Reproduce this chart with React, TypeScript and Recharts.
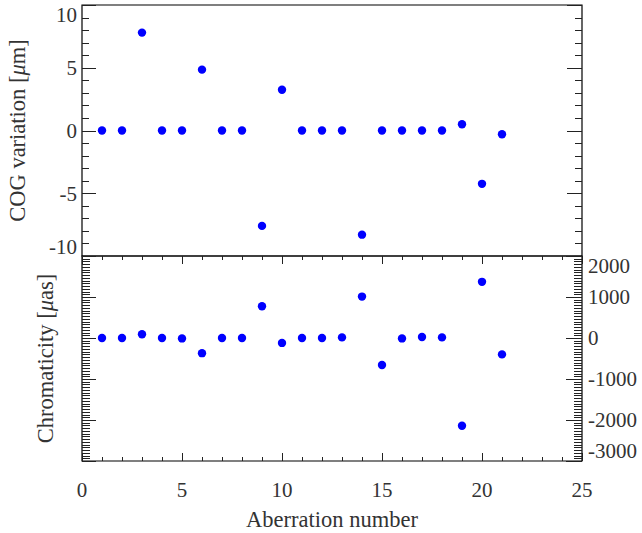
import React from "react";
import { ScatterChart, Scatter, XAxis, YAxis, ReferenceArea } from "recharts";

// aberration index (x) shared by both panels
const aberration = [1, 2, 3, 4, 5, 6, 7, 8, 9, 10, 11, 12, 13, 14, 15, 16, 17, 18, 19, 20, 21];

// top panel: COG variation [um]
const cogVariation = [
  0, 0, 7.8, 0, 0, 4.85, 0, 0, -7.6, 3.25, 0, 0, 0, -8.3, 0, 0, 0, 0, 0.5, -4.25, -0.3,
];

// bottom panel: chromaticity [uas]
const chromaticity = [
  0, 0, 90, 0, -10, -370, 0, 0, 775, -120, 0, 0, 15, 1010, -660, -10, 25, 15, -2140, 1370, -400,
];

const xTicks = [0, 1, 2, 3, 4, 5, 6, 7, 8, 9, 10, 11, 12, 13, 14, 15, 16, 17, 18, 19, 20, 21, 22, 23, 24, 25];
const xLabels = [0, 5, 10, 15, 20, 25];

const cogTicks = [-10, -9, -8, -7, -6, -5, -4, -3, -2, -1, 0, 1, 2, 3, 4, 5, 6, 7, 8, 9, 10];
const cogMajors = [-10, -5, 0, 5, 10];
const cogLabels = [-10, -5, 0, 5, 10];

const chromaMajors = [-3000, -2000, -1000, 0, 1000, 2000];
const chromaLabels = [-3000, -2000, -1000, 0, 1000, 2000];
// minor ticks, 15 per major step
const chromaTicks: number[] = [];
for (let k = -45; k <= 30; k++) chromaTicks.push(k % 15 === 0 ? (k / 15) * 1000 : (k * 1000) / 15);

const cogData = aberration.map((x, i) => ({ x, y: cogVariation[i] }));
const chromaData = aberration.map((x, i) => ({ x, y: chromaticity[i] }));

const FONT = "'Liberation Serif', 'Times New Roman', serif";
const TEXT = "#333";
const TICK = "#222";
const BLUE = "#0000ff";

const has = (arr: number[] | undefined, v: number) =>
  !!arr && arr.some((m) => Math.abs(m - v) < 1e-6);

// y-axis tick: draws the inward tick line itself, label only on labelled values
const YTick = (props: any) => {
  const { x = 0, y = 0, payload, side, majors, labels, majorLen, minorLen, shift } = props;
  const v = payload.value;
  const len = has(majors, v) ? majorLen : minorLen;
  const dir = side === "left" ? 1 : -1;
  const dy = shift && shift[String(v)] ? shift[String(v)] : 0;
  const yy = Math.round(y) + 0.5;
  return (
    <g>
      <path d={`M${x},${yy}H${x + dir * len}`} stroke={TICK} strokeWidth={1} fill="none" />
      {has(labels, v) && (
        <text
          x={side === "left" ? x - 5 : x + 6}
          y={y + dy}
          dy="0.35em"
          textAnchor={side === "left" ? "end" : "start"}
          fontFamily={FONT}
          fontSize={21}
          fill={TEXT}
        >
          {v}
        </text>
      )}
    </g>
  );
};

// x-axis tick: inward tick line, label only on the bottom edge
const XTick = (props: any) => {
  const { x = 0, y = 0, payload, edge } = props;
  const v = payload.value;
  const len = has(xLabels, v) ? 8 : 4;
  const dir = edge === "bottom" ? -1 : 1;
  const xx = Math.round(x) + 0.5;
  return (
    <g>
      <path d={`M${xx},${y}V${y + dir * len}`} stroke={TICK} strokeWidth={1} fill="none" />
      {edge === "bottom" && has(xLabels, v) && (
        <text x={x} y={y + 36} textAnchor="middle" fontFamily={FONT} fontSize={21} fill={TEXT}>
          {v}
        </text>
      )}
    </g>
  );
};

const dot = (p: any) => <circle cx={p.cx} cy={p.cy} r={4.2} fill={BLUE} />;
const noDot = () => <g />;

const App = () => {
  return (
    <div style={{ position: "absolute", left: 0, top: 0, width: 642, height: 533, background: "#fff" }}>
      {/* top panel */}
      <div style={{ position: "absolute", left: 0, top: 0 }}>
        <ScatterChart width={642} height={258} margin={{ top: 5, right: 59, bottom: 2, left: 81 }}>
          <XAxis type="number" dataKey="x" domain={[0, 25]} ticks={xTicks} hide />
          <YAxis
            yAxisId="l"
            type="number"
            dataKey="y"
            domain={[-10, 10]}
            ticks={cogTicks}
            interval={0}
            width={1}
            tickSize={0}
            tickMargin={0}
            axisLine={false}
            tickLine={false}
            tick={
              <YTick
                side="left"
                majors={cogMajors}
                labels={cogLabels}
                majorLen={14}
                minorLen={7}
                shift={{ "10": 10, "-10": -9 }}
              />
            }
            label={(p: any) => {
              const vb = p.viewBox;
              const cx = 25;
              const cy = vb.y + vb.height / 2;
              return (
                <text
                  x={cx}
                  y={cy}
                  transform={`rotate(-90, ${cx}, ${cy})`}
                  textAnchor="middle"
                  fontFamily={FONT}
                  fontSize={22.5}
                  fill={TEXT}
                >
                  COG variation [<tspan fontStyle="italic">μ</tspan>m]
                </text>
              );
            }}
          />
          <YAxis
            yAxisId="r"
            orientation="right"
            type="number"
            dataKey="y"
            domain={[-10, 10]}
            ticks={cogTicks}
            interval={0}
            width={1}
            tickSize={0}
            tickMargin={0}
            axisLine={false}
            tickLine={false}
            tick={<YTick side="right" majors={cogMajors} majorLen={15} minorLen={7} />}
          />
          <ReferenceArea
            yAxisId="l"
            x1={0}
            x2={25}
            y1={-10}
            y2={10}
            fill="none"
            stroke="#000"
            strokeWidth={1.2}
          />
          <Scatter yAxisId="l" data={cogData} shape={dot} isAnimationActive={false} />
          {/* invisible copy so the right axis gets drawn */}
          <Scatter yAxisId="r" data={cogData} shape={noDot} isAnimationActive={false} />
        </ScatterChart>
      </div>

      {/* bottom panel */}
      <div style={{ position: "absolute", left: 0, top: 254 }}>
        <ScatterChart width={642} height={279} margin={{ top: 1, right: 59, bottom: 71, left: 81 }}>
          <XAxis
            xAxisId="b"
            type="number"
            dataKey="x"
            domain={[0, 25]}
            ticks={xTicks}
            interval={0}
            height={1}
            tickSize={0}
            tickMargin={0}
            axisLine={false}
            tickLine={false}
            tick={<XTick edge="bottom" />}
            label={(p: any) => {
              const vb = p.viewBox;
              return (
                <text
                  x={vb.x + vb.width / 2}
                  y={vb.y + 66}
                  textAnchor="middle"
                  fontFamily={FONT}
                  fontSize={22.5}
                  fill={TEXT}
                >
                  Aberration number
                </text>
              );
            }}
          />
          <XAxis
            xAxisId="t"
            orientation="top"
            type="number"
            dataKey="x"
            domain={[0, 25]}
            ticks={xTicks}
            interval={0}
            height={1}
            tickSize={0}
            tickMargin={0}
            axisLine={false}
            tickLine={false}
            tick={<XTick edge="top" />}
          />
          <YAxis
            yAxisId="l"
            type="number"
            dataKey="y"
            domain={[-3000, 2000]}
            ticks={chromaTicks}
            interval={0}
            width={1}
            tickSize={0}
            tickMargin={0}
            axisLine={false}
            tickLine={false}
            tick={<YTick side="left" majors={chromaMajors} majorLen={14} minorLen={8} />}
            label={(p: any) => {
              const vb = p.viewBox;
              const cx = 53;
              const cy = vb.y + vb.height / 2;
              return (
                <text
                  x={cx}
                  y={cy}
                  transform={`rotate(-90, ${cx}, ${cy})`}
                  textAnchor="middle"
                  fontFamily={FONT}
                  fontSize={22.5}
                  fill={TEXT}
                >
                  Chromaticity [<tspan fontStyle="italic">μ</tspan>as]
                </text>
              );
            }}
          />
          <YAxis
            yAxisId="r"
            orientation="right"
            type="number"
            dataKey="y"
            domain={[-3000, 2000]}
            ticks={chromaTicks}
            interval={0}
            width={1}
            tickSize={0}
            tickMargin={0}
            axisLine={false}
            tickLine={false}
            tick={
              <YTick
                side="right"
                majors={chromaMajors}
                labels={chromaLabels}
                majorLen={16}
                minorLen={8}
                shift={{ "2000": 10, "-3000": -10 }}
              />
            }
          />
          <ReferenceArea
            xAxisId="b"
            yAxisId="r"
            x1={0}
            x2={25}
            y1={-3000}
            y2={2000}
            fill="none"
            stroke="#000"
            strokeWidth={1.2}
          />
          <Scatter xAxisId="b" yAxisId="r" data={chromaData} shape={dot} isAnimationActive={false} />
          {/* invisible copy so the top and left axes get drawn */}
          <Scatter xAxisId="t" yAxisId="l" data={chromaData} shape={noDot} isAnimationActive={false} />
        </ScatterChart>
      </div>
    </div>
  );
};

export default App;
